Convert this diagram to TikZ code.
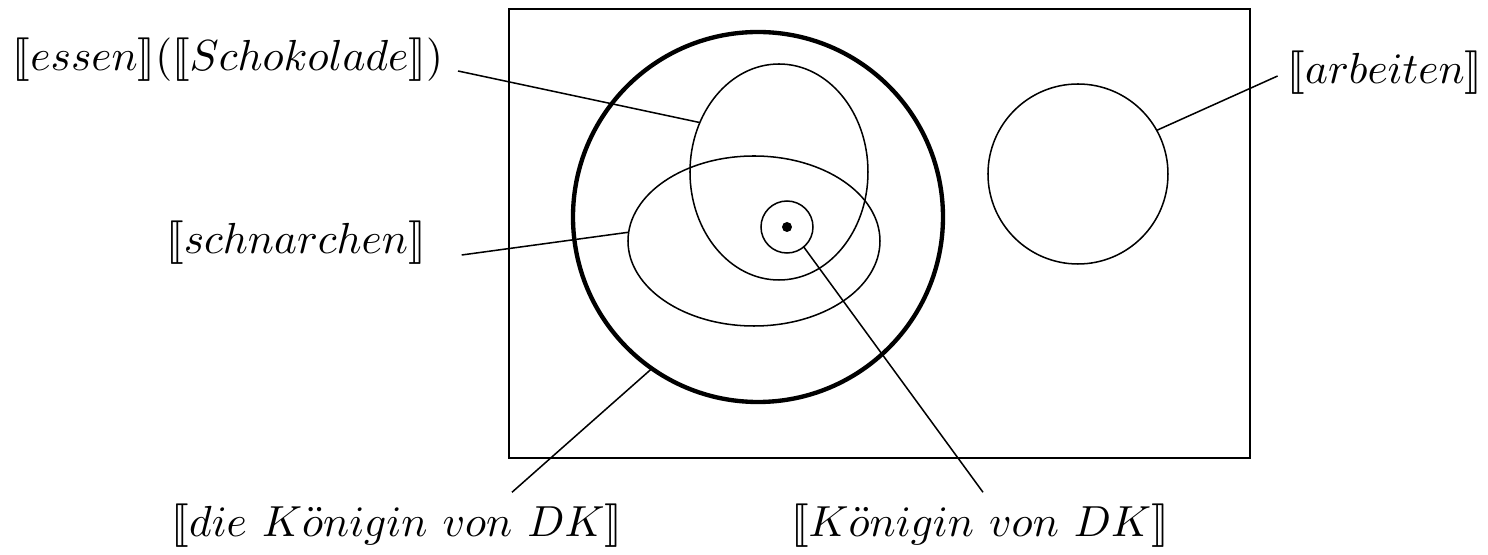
\documentclass[tikz,border=0pt]{standalone}
\usepackage{stmaryrd}
\usetikzlibrary{shapes.geometric}
\newdimen\pxu \pxu=0.23pt
\begin{document}
\begin{tikzpicture}[x=0.23pt,y=-0.23pt,
  thinline/.style={line width=0.35pt},
  thickline/.style={line width=1pt},
  setnode/.style={draw,thinline,inner sep=0pt,outer sep=0pt},
  circ/.style={setnode,circle},
  ell/.style={setnode,ellipse},
  lab/.style={inner sep=0pt,outer sep=0pt,font=\fontsize{10.4}{12}\selectfont},
  conn/.style={thinline}
]
\useasboundingbox (0,0) rectangle (1488,555);
% universe
\node[draw,thinline,rectangle,inner sep=0pt,minimum width=741\pxu,minimum height=449\pxu] (univ) at (879.5,233.5) {};
% sets
\node[circ,thickline,minimum size=370\pxu] (big) at (758,217) {};
\node[ell,minimum width=178\pxu,minimum height=216\pxu] (ess) at (779,172) {};
\node[ell,minimum width=252\pxu,minimum height=170\pxu] (sch) at (754,241) {};
\node[circ,minimum size=52\pxu] (small) at (787,227) {};
\node[circle,fill,inner sep=0pt,minimum size=10\pxu] (dot) at (787,227) {};
\node[circ,minimum size=180\pxu] (arb) at (1078,174) {};
% labels
\node[lab] (lessen) at (228,60) {$\llbracket essen\rrbracket(\llbracket Schokolade\rrbracket)$};
\node[lab] (lsch) at (296,243) {$\llbracket schnarchen\rrbracket$};
\node[lab] (larb) at (1385,73) {$\llbracket arbeiten\rrbracket$};
\node[lab] (ldie) at (397,526) {$\llbracket die\ K\ddot{o}nigin\ von\ DK\rrbracket$};
\node[lab] (lkoe) at (980,526) {$\llbracket K\ddot{o}nigin\ von\ DK\rrbracket$};
% connectors
\draw[conn] ([shift={(15,11)}]lessen.east) -- (ess.148);
\draw[conn] ([shift={(36,12)}]lsch.east) -- (sch.176);
\draw[conn] ([shift={(-10,3)}]larb.west) -- (arb.29);
\draw[conn] ([shift={(115,-12)}]ldie.north) -- (big.235);
\draw[conn] ([shift={(3,-12)}]lkoe.north) -- (small.-50);
\end{tikzpicture}
\end{document}
